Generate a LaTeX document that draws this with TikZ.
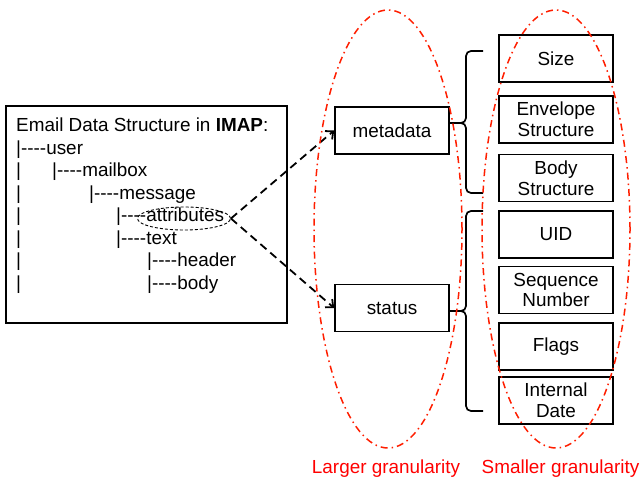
\documentclass[tikz,border=0pt]{standalone}
\usepackage{fontspec}
\setmainfont{Liberation Sans}
\usetikzlibrary{arrows.meta,shapes.geometric}
\definecolor{granred}{RGB}{255,30,0}
% four hyphens kept apart so they are not joined into dashes
\newcommand\fourdash{-\kern0pt-\kern0pt-\kern0pt-}
\begin{document}
\begin{tikzpicture}[x=1pt,y=-1pt,
  font=\fontsize{18.9}{22.5}\selectfont,
  box/.style={draw, line width=1.7pt, minimum width=114pt, minimum height=47pt,
    inner sep=0pt, align=center, font=\fontsize{18.9}{20.7}\selectfont},
  treeline/.style={anchor=base west, inner sep=0pt},
  link/.style={line width=1.8pt, dash pattern=on 8pt off 5pt,
    -{Straight Barb[length=6pt,width=11pt,line width=1.8pt]}},
  bracket/.style={line width=1.7pt, rounded corners=5pt},
  granularity/.style={draw=granred, line width=1.5pt,
    dash pattern=on 7pt off 4pt on 1.5pt off 4pt},
  granlabel/.style={text=red, anchor=base, inner sep=0pt}]
\useasboundingbox (0,0) rectangle (642,478);

% structure tree
\node[draw, line width=1.7pt, minimum width=281pt, minimum height=217pt, inner sep=0pt]
  (tree) at (146.5,214.5) {};
\node[treeline] (title) at (16,131.7) {Email Data Structure in \textbf{IMAP}:};
\node[treeline] (user) at (16,154.2) {|\fourdash user};
\node[treeline] (bar2) at (16,176.6) {|};
\node[treeline] (mailbox) at (52,176.6) {|\fourdash mailbox};
\node[treeline] (bar3) at (16,199.1) {|};
\node[treeline] (message) at (89,199.1) {|\fourdash message};
\node[treeline] (bar4) at (16,221.6) {|};
\node[treeline] (attrline) at (116,221.6) {|\fourdash attributes};
\node[treeline] (bar5) at (16,244.1) {|};
\node[treeline] (text) at (116,244.1) {|\fourdash text};
\node[treeline] (bar6) at (16,266.5) {|};
\node[treeline] (header) at (147,266.5) {|\fourdash header};
\node[treeline] (bar7) at (16,289.0) {|};
\node[treeline] (body) at (147,289.0) {|\fourdash body};
\node[draw, ellipse, line width=0.9pt, dash pattern=on 3pt off 2pt,
  minimum width=93pt, minimum height=23pt, inner sep=0pt] (attr) at (184,218.5) {};

% attribute groups
\node[box] (metadata) at (392,130.5) {metadata};
\node[box] (status) at (392,308) {status};

% single attributes
\node[box] (size) at (556,58.5) {Size};
\node[box] (envelope) at (556,119.5) {Envelope\\Structure};
\node[box] (bodystruct) at (556,178) {Body\\Structure};
\node[box] (uid) at (556,234.5) {UID};
\node[box] (seqnum) at (556,290) {Sequence\\Number};
\node[box] (flags) at (556,346.5) {Flags};
\node[box] (intdate) at (556,400.5) {Internal\\Date};

% links from attributes
\draw[link] (attr.east) -- (metadata.west);
\draw[link] (attr.east) -- (status.west);

% braces
\coordinate (mdtop) at (483,51);
\coordinate (mdbot) at (483,193);
\coordinate (mdmid) at (466,123);
\draw[bracket] (mdtop) -- (466,51) -- (mdmid) -- (metadata.east |- mdmid);
\draw[bracket] (mdbot) -- (466,193) -- (mdmid) -- (metadata.east |- mdmid);
\coordinate (sttop) at (483,211);
\coordinate (stbot) at (483,411);
\coordinate (stmid) at (466,311);
\draw[bracket] (sttop) -- (466,211) -- (stmid) -- (status.east |- stmid);
\draw[bracket] (stbot) -- (466,411) -- (stmid) -- (status.east |- stmid);

% granularity regions
\draw[granularity] (388,229) ellipse [x radius=74pt, y radius=219pt];
\draw[granularity] (556,229) ellipse [x radius=74pt, y radius=219pt];
\node[granlabel] (larger) at (386,473) {Larger granularity};
\node[granlabel] (smaller) at (560.5,473) {Smaller granularity};
\end{tikzpicture}
\end{document}
